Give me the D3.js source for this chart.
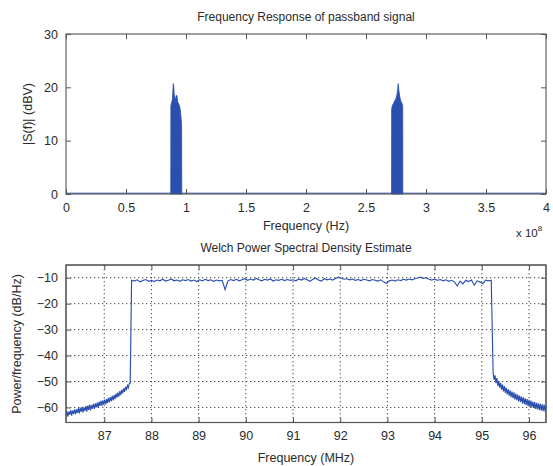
<!DOCTYPE html>
<html><head><meta charset="utf-8">
<script src="https://cdn.jsdelivr.net/npm/d3@7"></script>
<style>body{margin:0;background:#fff}svg{display:block}</style>
</head><body><svg id="c" width="553" height="466"></svg>
<script>
// ---------- top chart data ----------
const topTitle = "Frequency Response of passband signal";
const topXTicks = [0, 0.5, 1, 1.5, 2, 2.5, 3, 3.5, 4];
const topXTickLabels = ["0", "0.5", "1", "1.5", "2", "2.5", "3", "3.5", "4"];
const topYTicks = [0, 10, 20, 30];
const baselineFreq = [0, 4];          // x 10^8 Hz
const baselineMag = [0.15, 0.15];
const peak1Freq = [0.873, 0.874, 0.880, 0.886, 0.890, 0.894, 0.898, 0.902, 0.907, 0.912, 0.918, 0.925, 0.930, 0.937, 0.945, 0.952, 0.958, 0.963, 0.965];
const peak1Mag  = [0, 16.5, 17.2, 17.6, 19.0, 20.7, 20.1, 18.6, 18.0, 17.6, 18.5, 18.4, 17.3, 17.0, 16.6, 15.8, 14.5, 13.0, 0];
const peak2Freq = [2.713, 2.714, 2.720, 2.730, 2.740, 2.750, 2.758, 2.764, 2.769, 2.774, 2.780, 2.788, 2.795, 2.802, 2.806, 2.807];
const peak2Mag  = [0, 16.0, 16.6, 17.0, 17.5, 17.9, 18.6, 19.6, 20.7, 19.4, 18.4, 17.6, 17.2, 16.9, 16.3, 0];

// ---------- bottom chart data ----------
const botTitle = "Welch Power Spectral Density Estimate";
const botXTicks = [87, 88, 89, 90, 91, 92, 93, 94, 95, 96];
const botYTicks = [-10, -20, -30, -40, -50, -60];
const leftSkirtStart = 86.19, leftSkirtStep = 0.02;   // MHz
const leftSkirt = [-63.2,-61.4,-63.5,-61.6,-62.8,-61.0,-63.2,-61.2,-62.5,-60.7,
  -62.7,-60.8,-62.1,-60.3,-62.3,-60.1,-61.7,-59.8,-61.9,-60.0,
  -61.3,-59.5,-61.6,-59.3,-60.9,-58.9,-61.1,-59.1,-60.5,-58.6,
  -60.6,-58.4,-60.0,-58.1,-60.1,-57.8,-59.4,-57.5,-59.3,-57.3,
  -58.9,-57.0,-58.8,-56.7,-58.3,-56.3,-58.0,-56.0,-57.6,-55.5,
  -57.3,-55.2,-56.8,-54.7,-56.2,-54.3,-55.8,-53.7,-55.2,-53.2,
  -54.6,-52.7,-54.0,-52.1,-53.3,-51.5,-52.4,-50.8,-50.6];
const plateauStart = 87.58, plateauStep = 0.06;
const plateau = [-11.0,-11.3,-10.8,-11.6,-11.1,-10.7,-11.4,-11.0,-11.5,-10.9,
  -11.2,-10.6,-11.3,-11.0,-10.5,-11.2,-10.9,-11.4,-10.8,-11.1,
  -10.7,-11.3,-10.9,-11.5,-10.8,-11.2,-10.6,-11.1,-10.8,-11.4,
  -10.9,-11.2,-11.0,-14.6,-11.3,-10.7,-11.1,-10.6,-11.2,-10.8,
  -10.4,-11.0,-10.5,-10.9,-10.3,-10.8,-11.2,-10.6,-10.9,-10.5,
  -11.3,-10.8,-11.0,-10.6,-11.1,-10.7,-11.0,-10.8,-11.2,-10.5,
  -10.9,-10.3,-10.8,-11.4,-10.6,-10.2,-10.9,-11.3,-10.4,-10.8,
  -10.5,-10.9,-10.3,-9.8,-10.2,-10.6,-10.4,-10.8,-10.5,-11.0,
  -10.7,-11.1,-10.6,-10.9,-11.2,-10.7,-11.0,-11.3,-10.8,-11.6,
  -12.2,-11.2,-10.9,-11.3,-10.8,-11.1,-10.6,-10.9,-10.5,-10.8,
  -10.4,-10.1,-9.8,-10.3,-10.0,-10.6,-10.9,-10.5,-11.0,-10.7,
  -11.2,-10.8,-11.4,-11.0,-11.6,-13.2,-11.3,-12.4,-11.0,-11.5,
  -10.9,-12.9,-11.2,-11.6,-12.3,-10.9,-11.2,-11.0];
const rightSkirtStart = 95.24, rightSkirtStep = 0.02;
const rightSkirt = [-46.8,-49.3,-47.6,-50.6,-48.7,-51.7,-49.8,-52.4,-50.5,-53.1,
  -51.2,-53.8,-51.8,-54.4,-52.4,-55.0,-53.0,-55.5,-53.4,-56.0,
  -53.9,-56.4,-54.2,-56.9,-54.7,-57.2,-55.0,-57.7,-55.4,-57.9,
  -55.8,-58.4,-56.1,-58.7,-56.5,-59.1,-56.8,-59.4,-57.1,-59.8,
  -57.4,-60.0,-57.7,-60.3,-57.9,-60.6,-58.2,-60.8,-58.4,-61.0,
  -58.6,-61.2,-58.8,-61.4,-58.9,-61.5,-59.5];

// ---------- drawing ----------
const svg = d3.select("#c");
const FONT = "'Liberation Sans', Arial, Helvetica, sans-serif";
const BLUE = "#2b4fae";
const TXT = "#2a2a2a";
const FRAME = "#555";

function frameAndTicks(g, x, y, xt, yt, xlabels, grid) {
  const [x0, x1] = x.range(), [y0, y1] = y.range(); // y0 bottom, y1 top
  if (grid) {
    const gg = g.append("g").attr("stroke", "#333").attr("stroke-width", 0.9)
      .attr("stroke-dasharray", "1.3,2.7");
    xt.forEach(v => gg.append("line").attr("x1", x(v)).attr("x2", x(v)).attr("y1", y1).attr("y2", y0));
    yt.forEach(v => gg.append("line").attr("x1", x0).attr("x2", x1).attr("y1", y(v)).attr("y2", y(v)));
  }
  const xb = d3.axisBottom(x).tickValues(xt).tickSizeInner(-5).tickSizeOuter(0).tickPadding(9)
    .tickFormat((d, i) => xlabels ? xlabels[i] : d);
  const xa = g.append("g").attr("transform", `translate(0,${y0})`).call(xb);
  const xtop = d3.axisTop(x).tickValues(xt).tickSizeInner(-5).tickSizeOuter(0).tickFormat("");
  const xa2 = g.append("g").attr("transform", `translate(0,${y1})`).call(xtop);
  const yl = d3.axisLeft(y).tickValues(yt).tickSizeInner(-5).tickSizeOuter(0).tickPadding(8);
  const ya = g.append("g").attr("transform", `translate(${x0},0)`).call(yl);
  const yr = d3.axisRight(y).tickValues(yt).tickSizeInner(-5).tickSizeOuter(0).tickFormat("");
  const ya2 = g.append("g").attr("transform", `translate(${x1},0)`).call(yr);
  [xa, xa2, ya, ya2].forEach(a => {
    a.select(".domain").remove();
    a.selectAll("line").attr("stroke", FRAME);
    a.selectAll("text").attr("fill", TXT).style("font-family", FONT).style("font-size", "12.5px");
  });
  g.append("rect").attr("x", x0).attr("y", y1).attr("width", x1 - x0).attr("height", y0 - y1)
    .attr("fill", "none").attr("stroke", FRAME).attr("stroke-width", 1.1);
}

// ----- top chart -----
const xT = d3.scaleLinear().domain([0, 4]).range([66, 546]);
const yT = d3.scaleLinear().domain([0, 30]).range([194, 34]);
const gT = svg.append("g");
const gTdata = gT.append("g");
gTdata.append("path")
  .datum(baselineFreq.map((f, i) => [f, baselineMag[i]]))
  .attr("d", d3.line().x(d => xT(d[0])).y(d => yT(d[1])))
  .attr("fill", "none").attr("stroke", BLUE).attr("stroke-width", 1);
const area = d3.area().x(d => xT(d[0])).y0(yT(0)).y1(d => yT(d[1]));
[[peak1Freq, peak1Mag], [peak2Freq, peak2Mag]].forEach(([F, M]) => {
  gTdata.append("path").datum(F.map((f, i) => [f, M[i]]))
    .attr("d", area).attr("fill", BLUE).attr("stroke", BLUE).attr("stroke-width", 0.8);
});
frameAndTicks(gT, xT, yT, topXTicks, topYTicks, topXTickLabels, false);

gT.append("text").attr("x", 306).attr("y", 21).attr("text-anchor", "middle")
  .style("font-family", FONT).style("font-size", "12px").attr("fill", TXT).text(topTitle);
gT.append("text").attr("x", 306).attr("y", 230).attr("text-anchor", "middle")
  .style("font-family", FONT).style("font-size", "12.5px").attr("fill", TXT).text("Frequency (Hz)");
gT.append("text").attr("transform", "translate(32,114) rotate(-90)").attr("text-anchor", "middle")
  .style("font-family", FONT).style("font-size", "12.5px").attr("fill", TXT).text("|S(f)| (dBV)");
const mult = gT.append("text").attr("x", 516).attr("y", 237)
  .style("font-family", FONT).style("font-size", "11.5px").attr("fill", TXT);
mult.append("tspan").text("x 10");
mult.append("tspan").attr("dy", -6).style("font-size", "8px").text("8");

// ----- bottom chart -----
const xB = d3.scaleLinear().domain([86.19, 96.36]).range([66, 546]);
const yB = d3.scaleLinear().domain([-65.8, -5.1]).range([422.5, 265]);
const gB = svg.append("g");
const pts = [];
leftSkirt.forEach((v, i) => pts.push([leftSkirtStart + i * leftSkirtStep, v]));
plateau.forEach((v, i) => pts.push([plateauStart + i * plateauStep, v]));
rightSkirt.forEach((v, i) => pts.push([rightSkirtStart + i * rightSkirtStep, v]));
frameAndTicks(gB, xB, yB, botXTicks, botYTicks, null, true);
gB.append("path").datum(pts)
  .attr("d", d3.line().x(d => xB(d[0])).y(d => yB(d[1])))
  .attr("fill", "none").attr("stroke", BLUE).attr("stroke-width", 1.15);
gB.append("rect").attr("x", 66).attr("y", 265).attr("width", 480).attr("height", 157.5)
  .attr("fill", "none").attr("stroke", FRAME).attr("stroke-width", 1.1);

gB.append("text").attr("x", 306).attr("y", 252).attr("text-anchor", "middle")
  .style("font-family", FONT).style("font-size", "12px").attr("fill", TXT).text(botTitle);
gB.append("text").attr("x", 306).attr("y", 462).attr("text-anchor", "middle")
  .style("font-family", FONT).style("font-size", "12.5px").attr("fill", TXT).text("Frequency (MHz)");
gB.append("text").attr("transform", "translate(21,344) rotate(-90)").attr("text-anchor", "middle")
  .style("font-family", FONT).style("font-size", "12.5px").attr("fill", TXT).text("Power/frequency (dB/Hz)");
</script>
</body></html>
